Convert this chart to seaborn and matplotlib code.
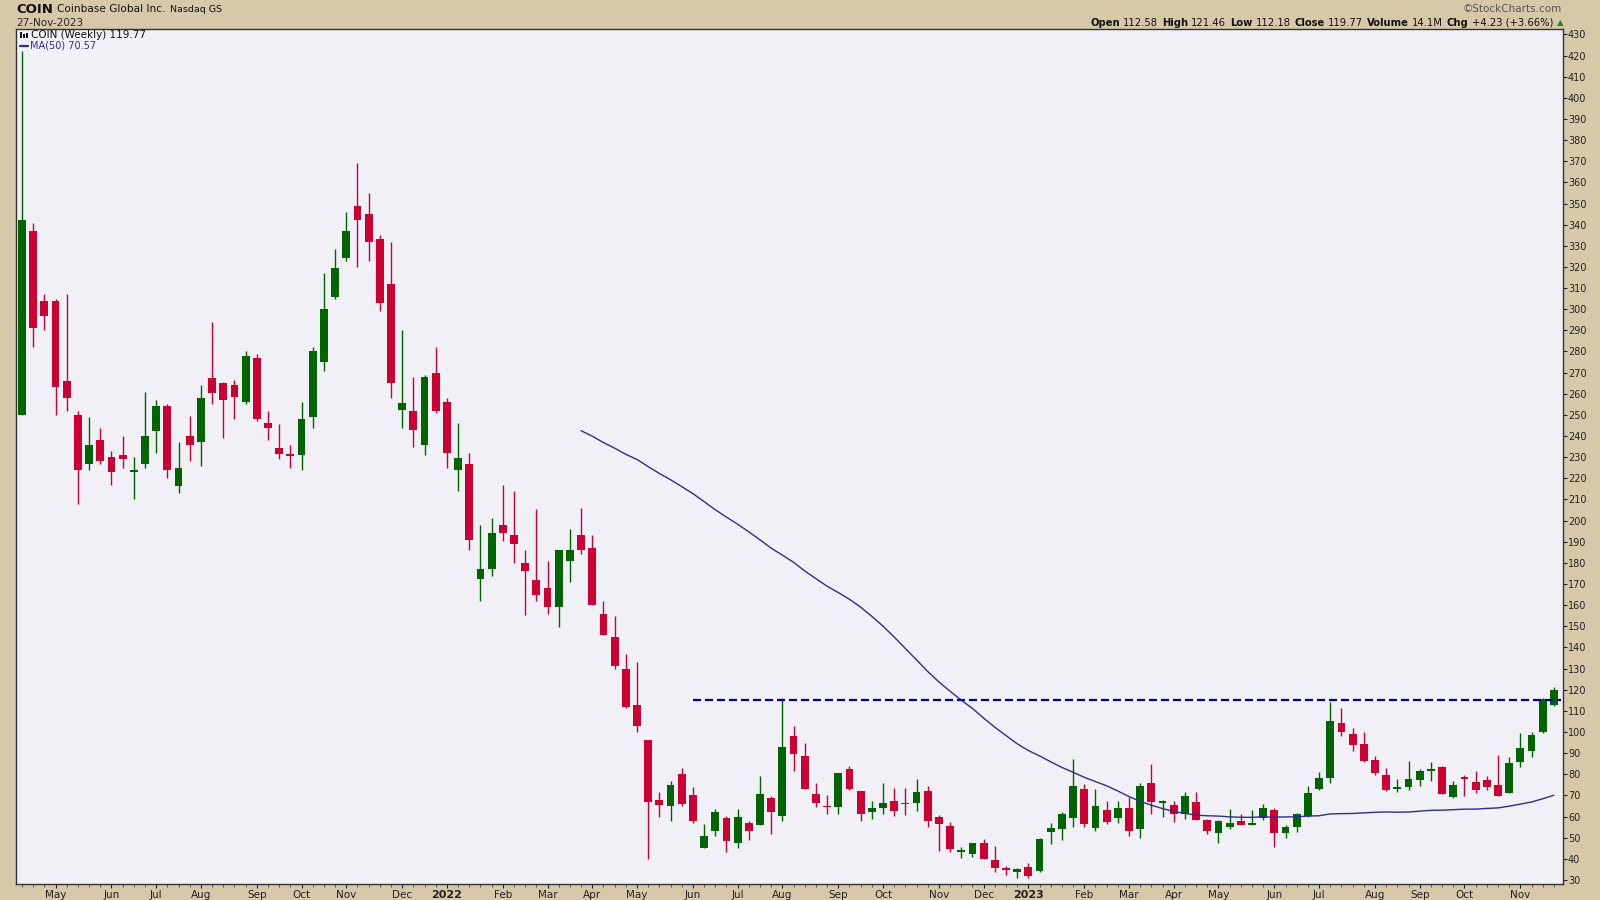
import numpy as np
import pandas as pd
import seaborn as sns
import matplotlib.pyplot as plt
from matplotlib.patches import Rectangle
from matplotlib.lines import Line2D

# weekly OHLC of COIN (week of 12-Apr-2021 .. 27-Nov-2023)
opens = [250, 337, 304, 304, 266, 250, 227, 238, 230, 231, 223, 227, 242.5, 254, 216.5, 240, 237, 267.5, 265, 264,
         256, 277, 246, 234.5, 231.5, 231, 249, 275, 306, 324, 349, 345, 333, 312, 252.5, 252, 236, 270, 256, 224,
         227, 172.5, 177, 198, 193, 180, 172, 168, 159, 181, 193, 187, 156, 145, 130, 113, 96, 68, 65, 80,
         70, 45.3, 53, 59.5, 47.6, 57, 56, 68.6, 60.4, 98, 88.6, 70.7, 65, 64.7, 82.3, 72, 62, 64, 67.4, 66.2,
         66.4, 72, 60, 55.5, 43.1, 42.3, 47.7, 39.5, 35.8, 34, 36, 34.4, 52.9, 54, 59.5, 73, 54.8, 63, 59.5, 64,
         54, 76, 66.6, 65.5, 61, 66.7, 58.4, 52.4, 55.2, 57.9, 56.2, 59.5, 63, 52, 55.2, 60.4, 73, 78.4, 104.3, 99,
         94.2, 86.8, 79.7, 73, 74, 77.5, 81.4, 83.5, 69.4, 78.4, 76.4, 77.3, 75, 71.3, 86, 91.2, 100, 112.58]
highs = [422, 341, 307, 305, 307, 252, 249, 244, 233, 240, 230, 261, 257, 255, 237, 249.5, 264, 294, 265.5, 266.5,
         280, 279, 252, 245.7, 236, 256, 282, 317, 328.5, 346, 369, 355, 335, 332, 290, 268, 269, 282, 258, 246,
         232, 198, 201, 217, 214, 186, 205.5, 181, 186, 196, 206, 193, 162, 155, 137, 133, 96, 71.5, 77, 83,
         74, 56.5, 63.4, 60.3, 63.4, 58, 79, 69.7, 116, 103, 95, 76, 70, 80.5, 84, 72, 67.4, 75.7, 73.7, 73.7,
         77.8, 74.6, 60.7, 57.3, 45.8, 47.7, 49.2, 46, 36.6, 35.8, 37.9, 50, 56.8, 62, 87, 75.3, 73, 67.4, 67.4, 69.4,
         76, 85, 67.8, 67.5, 71.8, 71.5, 58.7, 58.4, 63.4, 61, 63, 65.8, 64, 56, 61.5, 74.5, 81, 114.4, 111.2, 102,
         100.2, 88.5, 82.8, 77.9, 86.3, 82.4, 85.8, 83.9, 77, 79.5, 81.7, 79.2, 89, 88.3, 99.5, 100, 116.3, 121.46]
lows = [250, 282, 290, 250, 252, 208, 224, 227, 217, 225, 210, 225, 232, 220, 213, 228, 226, 255, 239, 248,
        255, 247, 238, 229, 225, 224, 244, 271, 305, 323, 320, 323, 299, 258, 244, 235, 231, 251, 225, 214,
        186, 162, 174, 190.5, 180, 155.5, 162, 156, 149.5, 171, 184, 160, 146, 130, 111.5, 100, 40, 60, 58, 65,
        57, 45, 51, 43.4, 45.3, 49, 56, 51.7, 58, 81.5, 73, 64.7, 61, 61, 72.6, 58, 59, 61, 60.4, 60.7,
        62.6, 55, 43.7, 43.4, 40.3, 41, 39.8, 34, 32.4, 31.1, 31.1, 34, 47, 49, 55, 55, 53, 56.3, 56.8, 51,
        50, 61, 60, 57.6, 59, 58.4, 51.6, 47.3, 54, 56, 56, 58.4, 45.8, 49.7, 52.9, 60, 72.6, 76, 98.3, 91,
        86, 79.8, 71.9, 71.5, 72.6, 74.6, 77, 70.5, 69, 69.7, 71.3, 72.6, 69.9, 71.3, 83.6, 88, 99.4, 112.18]
closes = [342, 291, 297, 263, 258, 224, 236, 228, 223, 229, 224, 240, 254, 224, 225, 236, 258, 260.5, 257, 258.6,
          278, 248, 244, 231.4, 230.6, 248, 280, 300, 319.5, 337, 342, 332, 303, 265, 255.6, 243, 268, 252, 232, 229.6,
          191, 177, 194, 194, 189, 176, 165, 159, 186, 186, 186, 160, 146, 131, 112, 103, 67, 65.5, 75, 66,
          58, 51, 62, 48.6, 59.6, 53, 70.7, 62.3, 93, 89.6, 73, 66.3, 64.5, 80.4, 73, 61, 64, 66.4, 62.6, 65.8,
          71.8, 58, 56.5, 44.7, 44.2, 47.7, 39.8, 35.8, 34.7, 35.2, 31.9, 49.4, 54.4, 61.2, 74.5, 56.5, 65.2, 57.6, 64.1, 53,
          74.5, 67, 67.5, 61, 69.7, 58.4, 53.3, 57.8, 57, 56, 56.8, 64.1, 52.4, 54.9, 61.2, 71, 78.3, 105.2, 100.2, 94,
          86.3, 80.5, 72.6, 74.1, 77.9, 81.6, 82.4, 70.5, 74.8, 77.9, 72.6, 74.1, 69.9, 85.3, 92.3, 98.6, 115.5, 119.77]

resistance = 115.3      # dashed horizontal level
resistance_from = 60    # week where the dashed line starts
ma_window = 50
y_ticks = list(range(30, 431, 10))

dates = pd.date_range('2021-04-12', periods=len(closes), freq='W-MON')
df = pd.DataFrame({'date': dates, 'open': opens, 'high': highs, 'low': lows, 'close': closes})
df['x'] = np.arange(len(df))
df['ma50'] = df['close'].rolling(ma_window).mean()
df.loc[df['x'] < ma_window, 'ma50'] = np.nan   # chart shows the MA from the 51st week on

W, H = 1600, 900
tan = '#D7C8AA'
panel = '#F0F0F6'
green = '#006400'
red = '#CC0033'
navy = '#2E2E8C'

sns.set_theme(style='white')
plt.rcParams['font.family'] = ['DejaVu Sans']

fig = plt.figure(figsize=(16, 9), dpi=100, facecolor=tan)
ax = fig.add_axes([16.3 / W, 1 - 884 / H, (1562.5 - 16.3) / W, (884 - 28.7) / H])
ax.set_facecolor(panel)

# candles
up = df['close'] >= df['open']
cols = np.where(up, green, red)
ax.vlines(df['x'], df['low'], df['high'], colors=cols, linewidth=1.0, zorder=2)
body_lo = df[['open', 'close']].min(axis=1)
body_h = (df['close'] - df['open']).abs().clip(lower=0.6)
ax.bar(df['x'], body_h, bottom=body_lo, width=0.7, color=cols, linewidth=0, zorder=3)

# 50 week moving average
sns.lineplot(data=df, x='x', y='ma50', ax=ax, color=navy, linewidth=1.0, zorder=4)

# resistance line
ax.hlines(resistance, resistance_from, len(df) - 0.4, colors='#0000A8', linewidth=1.6,
          linestyles=(0, (3.6, 1.8)), zorder=5)

ax.set_xlim(-0.51, len(df) - 0.23)
ax.set_ylim(28.1, 432.7)
ax.set_xlabel('')
ax.set_ylabel('')

# axes / ticks
ax.yaxis.tick_right()
ax.set_yticks(y_ticks)
ax.set_yticklabels([str(v) for v in y_ticks])
ax.tick_params(axis='y', which='major', right=True, left=False, length=3, width=0.8,
               labelsize=7, pad=1, colors='#222222')

month_start = df['date'].dt.month != df['date'].shift().dt.month
month_start.iloc[0] = False
tick_x = df.loc[month_start, 'x'].tolist()
tick_lab = [str(d.year) if d.month == 1 else d.strftime('%b') for d in df.loc[month_start, 'date']]
ax.set_xticks(tick_x)
ax.set_xticklabels(tick_lab)
ax.set_xticks(df['x'], minor=True)
ax.tick_params(axis='x', which='major', bottom=True, length=3, width=0.8, labelsize=7.5, pad=1.5,
               colors='#222222')
ax.tick_params(axis='x', which='minor', bottom=True, length=2, width=0.6, colors='#444444')
for t in ax.get_xticklabels():
    if t.get_text().isdigit():
        t.set_fontweight('bold')
        t.set_fontsize(8)

for s in ax.spines.values():
    s.set_color('#333333')
    s.set_linewidth(1.0)


def fx(px):
    return px / W


def fy(py):
    return 1 - py / H


# legend inside the panel
for i, hh in enumerate([6, 4, 5]):
    fig.add_artist(Rectangle((fx(20 + i * 3), fy(38)), 2 / W, hh / H, transform=fig.transFigure,
                             color='#111111', lw=0))
fig.text(fx(31), fy(35), 'COIN (Weekly) 119.77', fontsize=7.5, va='center', ha='left', color='#111111')
fig.add_artist(Line2D([fx(20), fx(28)], [fy(46), fy(46)], transform=fig.transFigure, color=navy, lw=1.6))
fig.text(fx(30), fy(46), 'MA(50) 70.57', fontsize=7, va='center', ha='left', color=navy)

r = fig.canvas.get_renderer()


def row(pieces, y, x_left=None, x_right=None, gap=4):
    texts = [fig.text(0, fy(y), s, fontsize=fs, fontweight=w, va='center', ha='left', color=c)
             for s, w, fs, c in pieces]
    widths = [t.get_window_extent(renderer=r).width for t in texts]
    total = sum(widths) + gap * (len(widths) - 1)
    x = x_left if x_left is not None else x_right - total
    for t, wd in zip(texts, widths):
        t.set_x(fx(x))
        x += wd + gap


# header
row([('COIN', 'bold', 9.5, '#111111'), ('Coinbase Global Inc.', 'normal', 7.6, '#111111'),
     ('Nasdaq GS', 'normal', 6.8, '#111111')], 9.5, x_left=16.5, gap=4)
fig.text(fx(16), fy(22.5), '27-Nov-2023', fontsize=7.5, va='center', ha='left')
fig.text(fx(1562), fy(9.5), '\u00a9StockCharts.com', fontsize=7.5, va='center', ha='right', color='#555555')

ohlc = [('Open', 'bold'), ('112.58', 'normal'), ('High', 'bold'), ('121.46', 'normal'),
        ('Low', 'bold'), ('112.18', 'normal'), ('Close', 'bold'), ('119.77', 'normal'),
        ('Volume', 'bold'), ('14.1M', 'normal'), ('Chg', 'bold'), ('+4.23 (+3.66%)', 'normal')]
row([(s, w, 7.2, '#111111') for s, w in ohlc], 22.5, x_right=1553, gap=3.5)
fig.text(fx(1563), fy(22.5), '\u25b2', fontsize=6, color='#1a8a1a', va='center', ha='right')

fig.savefig('out.png', dpi=100, facecolor=tan)
